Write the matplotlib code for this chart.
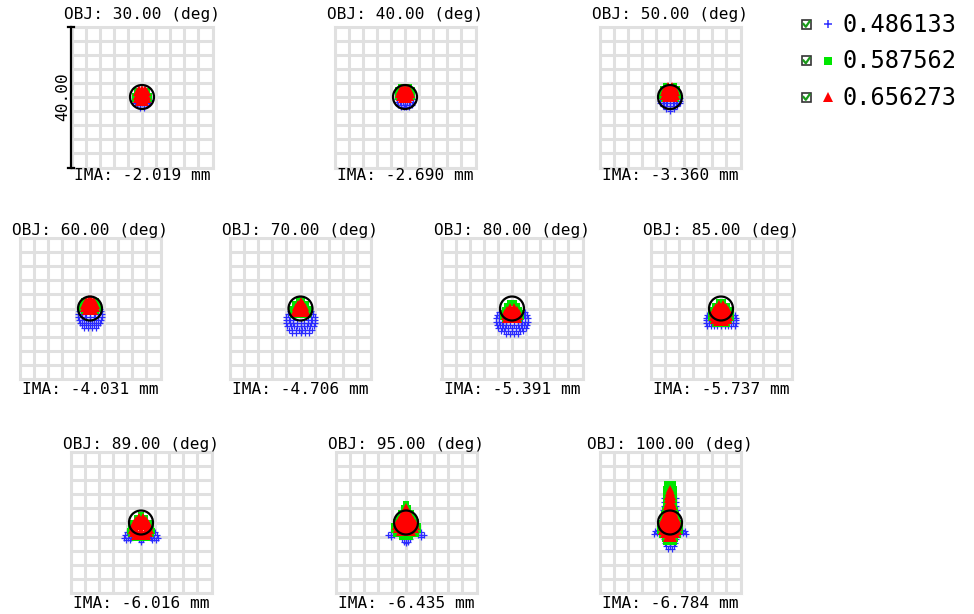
import matplotlib
matplotlib.use("Agg")
import matplotlib.pyplot as plt
from matplotlib.patches import Circle, Rectangle
import numpy as np

# ---------------- data ----------------
FIELDS = [30.0, 40.0, 50.0, 60.0, 70.0, 80.0, 85.0, 89.0, 95.0, 100.0]
IMA = [-2.019, -2.690, -3.360, -4.031, -4.706, -5.391, -5.737, -6.016, -6.435, -6.784]
WAVELENGTHS = ["0.486133", "0.587562", "0.656273"]
SCALE = 40.00          # full grid width (um)
AIRY_RADIUS = 3.4      # um

# spot points, rows of (y, [x ...]) in um
BLUE_SPOTS = [
    [(0.5, [-1.8, 1.8]), (-0.8, [-2.2, -1.2, 1.2, 2.2]), (-1.6, [-2.0, -1.0, 0, 1.0, 2.0]),
     (-2.4, [-1.4, -0.5, 0.5, 1.4]), (-3.0, [-0.6, 0.6])],
    [(-0.6, [-2.3, -1.5, 1.5, 2.3]), (-1.4, [-2.3, -1.4, -0.5, 0.5, 1.4, 2.3]),
     (-2.2, [-2.0, -1.0, 0, 1.0, 2.0]), (-2.9, [-1.2, -0.4, 0.4, 1.2])],
    [(-0.2, [-2.8, 2.8]), (-1.0, [-2.9, -2.0, -1.1, 1.1, 2.0, 2.9]),
     (-1.8, [-2.7, -1.8, -0.9, 0, 0.9, 1.8, 2.7]), (-2.6, [-2.0, -1.0, 0, 1.0, 2.0]),
     (-3.3, [-1.0, 0, 1.0]), (-3.9, [0])],
    [(0.0, [-2.8, 2.8]), (-0.8, [-3.2, -2.2, 2.2, 3.2]), (-1.6, [-3.4, -2.4, -1.4, 1.4, 2.4, 3.4]),
     (-2.4, [-3.4, -2.4, -1.2, 0, 1.2, 2.4, 3.4]), (-3.2, [-3.2, -2.2, -1.1, 0, 1.1, 2.2, 3.2]),
     (-4.0, [-2.8, -1.8, -0.6, 0.6, 1.8, 2.8]), (-4.8, [-2.2, -1.2, 0, 1.2, 2.2]),
     (-5.6, [-1.6, -0.5, 0.5, 1.6])],
    [(-0.6, [-3.0, 3.0]), (-1.5, [-3.6, -2.6, 2.6, 3.6]), (-2.4, [-4.0, -3.0, 3.0, 4.0]),
     (-3.3, [-4.1, -3.2, -2.0, 2.0, 3.2, 4.1]),
     (-4.2, [-4.0, -3.0, -2.0, -1.0, 0, 1.0, 2.0, 3.0, 4.0]),
     (-5.1, [-3.8, -2.8, -1.8, -0.9, 0, 0.9, 1.8, 2.8, 3.8]),
     (-6.0, [-3.3, -2.3, -1.3, -0.4, 0.4, 1.3, 2.3, 3.3]), (-6.9, [-2.4, -1.2, 0, 1.2, 2.4])],
    [(-1.0, [-3.8, 3.8]), (-1.9, [-4.3, -3.4, 3.4, 4.3]), (-2.8, [-4.5, -3.6, -2.7, 2.7, 3.6, 4.5]),
     (-3.7, [-4.5, -3.6, -2.7, -1.8, 1.8, 2.7, 3.6, 4.5]),
     (-4.6, [-4.3, -3.4, -2.5, -1.6, -0.6, 0.6, 1.6, 2.5, 3.4, 4.3]),
     (-5.5, [-3.9, -2.9, -2.0, -1.0, 0, 1.0, 2.0, 2.9, 3.9]),
     (-6.4, [-3.2, -2.2, -1.1, 0, 1.1, 2.2, 3.2]), (-7.1, [-1.8, -0.6, 0.6, 1.8])],
    [(-1.8, [-4.0, -3.2, 3.2, 4.0]), (-2.6, [-4.3, -3.4, -2.6, 2.6, 3.4, 4.3]),
     (-3.4, [-4.3, -3.4, -2.6, -1.7, 1.7, 2.6, 3.4, 4.3]),
     (-4.2, [-4.2, -3.3, -2.4, -1.5, -0.5, 0.5, 1.5, 2.4, 3.3, 4.2]),
     (-5.0, [-3.9, -2.9, -2.0, -1.0, 0, 1.0, 2.0, 2.9, 3.9])],
    [(-2.8, [-4.0, 4.0]), (-3.5, [-4.6, -3.3, -2.5, 2.5, 3.3, 4.6]),
     (-4.4, [-4.8, -3.8, -2.8, 2.8, 3.8, 4.8]), (-4.7, [-0.5, 0.5]),
     (-5.1, [-4.2, -3.2, 0, 3.2, 4.2]), (-5.5, [0])],
    [(-2.7, [-4.3, -3.4, 3.4, 4.3]), (-3.5, [-5.0, -4.2, -3.4, 3.4, 4.2, 5.0]),
     (-4.2, [-4.3, 4.3]), (-4.6, [-1.0, 0, 1.0]), (-5.4, [-0.5, 0.5]), (-5.9, [0])],
    [(7.0, [-1.8, 1.8]), (5.8, [-1.6, 1.6]), (4.6, [-1.8, 1.8]), (3.6, [-2.0, 2.0]),
     (-2.0, [-3.5, 3.5]), (-2.4, [-4.3, 4.3]), (-3.0, [-3.6, 3.6]),
     (-3.3, [-4.6, -2.9, 2.9, 4.6]), (-4.8, [-1.8, -0.6, 0.6, 1.8]),
     (-5.8, [-1.4, 0, 1.4]), (-6.8, [-1.0, 0, 1.0]), (-7.6, [-0.5, 0.5])],
]

GREEN_SPOTS = [
    [(1.8, [-1.4, 1.4]), (0.4, [-2.0, 2.0]), (-0.5, [-1.9, 1.9])],
    [(2.9, [-1.2, 1.2]), (2.0, [-1.9, 1.9]), (1.0, [-2.1, 2.1]), (0.0, [-2.0, 2.0])],
    [(3.2, [-1.0, 1.0]), (2.2, [-2.0, 2.0]), (1.2, [-2.4, 2.4]), (0.2, [-2.3, 2.3]),
     (-0.6, [-1.8, 1.8])],
    [(2.0, [-1.7, 1.7]), (1.0, [-2.2, 2.2]), (0.0, [-2.3, 2.3]), (-0.8, [-1.8, 1.8])],
    [(2.3, [-0.5, 0.5]), (1.2, [-1.6, 1.6]), (0.0, [-2.3, 2.3]), (-1.2, [-2.5, 2.5]),
     (-1.9, [-2.0, -1.0, 0, 1.0, 2.0])],
    [(1.5, [-0.5, 0.5]), (0.7, [-1.3, 1.3]), (-0.3, [-2.1, 2.1]), (-1.3, [-2.5, 2.5]),
     (-2.3, [-2.5, 2.5]), (-3.3, [-1.9, 1.9])],
    [(1.8, [-0.7, 0.7]), (0.8, [-1.7, 1.7]), (-0.3, [-2.5, 2.5]), (-1.4, [-2.8, 2.8]),
     (-2.6, [-2.8, 2.8]), (-3.6, [-2.4, 2.4]), (-4.3, [-1.6, -0.5, 0.5, 1.6])],
    [(2.2, [0]), (1.2, [-1.2, 1.2]), (0.0, [-2.4, 2.4]), (-1.2, [-2.9, 2.9]),
     (-2.4, [-3.0, 3.0]), (-3.4, [-2.7, 2.7]), (-4.3, [-1.8, -0.6, 0.6, 1.8])],
    [(5.2, [0]), (4.0, [-0.7, 0.7]), (2.8, [-1.3, 1.3]), (1.5, [-2.0, 2.0]),
     (0.2, [-2.8, 2.8]), (-1.0, [-3.3, 3.3]), (-2.2, [-3.5, 3.5]),
     (-3.2, [-2.8, -1.5, 1.5, 2.8]), (-4.0, [-1.2, 0, 1.2])],
    [(10.8, [-0.8, 0.8]), (9.6, [-1.0, 0, 1.0]), (8.4, [-1.1, 1.1]), (7.2, [-1.1, 1.1]),
     (6.0, [-1.1, 1.1]), (4.8, [-1.2, 1.2]), (3.6, [-1.3, 1.3]), (2.4, [-1.6, 1.6]),
     (1.2, [-2.0, 2.0]), (0.0, [-2.5, 2.5]), (-1.2, [-2.8, 2.8]), (-2.4, [-2.8, 2.8]),
     (-3.6, [-2.3, 2.3]), (-4.6, [-1.5, -0.5, 0.5, 1.5]), (-5.5, [-1.0, 0, 1.0])],
]

RED_SPOTS = [
    [(2.2, [-0.8, 0, 0.8]), (1.3, [-1.4, -0.5, 0.5, 1.4]), (0.4, [-1.5, -0.5, 0.5, 1.5]),
     (-0.5, [-1.4, -0.5, 0.5, 1.4]), (-1.3, [-0.9, 0, 0.9])],
    [(2.6, [-0.8, 0, 0.8]), (1.8, [-1.5, -0.5, 0.5, 1.5]), (0.9, [-1.6, -0.5, 0.5, 1.6]),
     (0.0, [-1.5, -0.5, 0.5, 1.5]), (-0.6, [-0.9, 0, 0.9])],
    [(3.0, [-0.6, 0.6]), (2.2, [-1.3, -0.4, 0.4, 1.3]), (1.3, [-1.7, -0.6, 0.6, 1.7]),
     (0.4, [-1.6, -0.5, 0.5, 1.6]), (-0.3, [-1.0, 0, 1.0])],
    [(2.8, [-0.4, 0.4]), (2.0, [-1.1, -0.3, 0.3, 1.1]), (1.1, [-1.6, -0.5, 0.5, 1.6]),
     (0.2, [-1.6, -0.5, 0.5, 1.6]), (-0.6, [-1.0, 0, 1.0])],
    [(2.0, [0]), (1.2, [-0.6, 0.6]), (0.3, [-1.2, -0.3, 0.4, 1.2]),
     (-0.6, [-1.6, -0.6, 0.5, 1.6]), (-1.3, [-1.7, -0.6, 0.6, 1.7])],
    [(0.4, [-0.6, 0.6]), (-0.4, [-1.4, -0.5, 0.5, 1.4]), (-1.3, [-1.9, -0.9, 0, 0.9, 1.9]),
     (-2.2, [-2.0, -1.0, 0, 1.0, 2.0]), (-3.0, [-1.6, -0.5, 0.5, 1.6])],
    [(1.2, [-0.5, 0.5]), (0.4, [-1.3, -0.4, 0.4, 1.3]), (-0.5, [-1.9, -0.9, 0, 0.9, 1.9]),
     (-1.4, [-2.2, -1.1, 0, 1.1, 2.2]), (-2.3, [-2.3, -1.2, 0, 1.2, 2.3]),
     (-3.2, [-2.0, -1.0, 0, 1.0, 2.0]), (-3.9, [-1.2, 0, 1.2])],
    [(1.5, [-0.5, 0.5]), (0.7, [-1.4, -0.5, 0.5, 1.4]), (-0.2, [-2.0, -1.0, 0, 1.0, 2.0]),
     (-1.1, [-2.4, -1.2, 0, 1.2, 2.4]), (-2.0, [-2.5, -1.3, 0, 1.3, 2.5]),
     (-2.9, [-2.3, -1.2, 0, 1.2, 2.3]), (-3.8, [-1.6, -0.5, 0.5, 1.6])],
    [(4.4, [0]), (3.5, [-0.4, 0.4]), (2.6, [-0.9, 0, 0.9]), (1.7, [-1.4, -0.5, 0.5, 1.4]),
     (0.8, [-2.0, -1.0, 0, 1.0, 2.0]), (-0.1, [-2.5, -1.5, -0.5, 0.5, 1.5, 2.5]),
     (-1.0, [-2.7, -1.6, -0.5, 0.5, 1.6, 2.7]), (-1.9, [-2.6, -1.5, -0.5, 0.5, 1.5, 2.6]),
     (-2.8, [-1.8, -0.6, 0.6, 1.8])],
    [(9.6, [0]), (8.6, [-0.3, 0.3]), (7.6, [-0.5, 0.5]), (6.6, [-0.6, 0.6]),
     (5.6, [-0.7, 0.7]), (4.6, [-0.8, 0, 0.8]), (3.6, [-0.9, 0, 0.9]), (2.6, [-1.1, 0, 1.1]),
     (1.6, [-1.5, -0.5, 0.5, 1.5]), (0.6, [-1.9, -0.9, 0, 0.9, 1.9]),
     (-0.4, [-2.2, -1.1, 0, 1.1, 2.2]), (-1.4, [-2.4, -1.2, 0, 1.2, 2.4]),
     (-2.4, [-2.3, -1.2, 0, 1.2, 2.3]), (-3.4, [-1.8, -0.6, 0.6, 1.8]), (-4.4, [-0.8, 0, 0.8])],
]

# ---------------- layout ----------------
W, H = 974, 614
PANEL_CENTERS = [(142, 97), (405, 97), (670, 97),
                 (90, 308.5), (300.5, 308.5), (512, 308.5), (721, 308.5),
                 (141, 522.5), (406, 522.5), (670, 522.5)]
PANEL_SIZE = 141
TITLE_Y = [15, 15, 15, 231, 231, 231, 231, 444, 444, 444]
IMA_Y = [176, 176, 176, 389, 389, 389, 389, 603, 603, 603]

GRID_C = "#e0e0e0"
MONO = ["DejaVu Sans Mono"]
STYLES = [
    dict(marker="+", color="#2a2aff", ms=4.6, mew=0.9),
    dict(marker="s", color="#00e600", ms=4.4, mew=0),
    dict(marker="^", color="#ff0000", ms=5.6, mew=0),
]


def expand(rows):
    xs, ys = [], []
    for y, xlist in rows:
        for x in xlist:
            xs.append(x)
            ys.append(y)
    return xs, ys


fig = plt.figure(figsize=(W / 100, H / 100), dpi=100)
fig.patch.set_facecolor("white")

half = SCALE / 2
ticks = np.linspace(-half, half, 11)
for i in range(len(FIELDS)):
    cx, cy = PANEL_CENTERS[i]
    s = PANEL_SIZE
    ax = fig.add_axes([(cx - s / 2) / W, 1 - (cy + s / 2) / H, s / W, s / H])
    ax.set_xlim(-half, half)
    ax.set_ylim(-half, half)
    ax.set_xticks(ticks)
    ax.set_yticks(ticks)
    ax.tick_params(length=0, labelbottom=False, labelleft=False)
    ax.grid(True, color=GRID_C, lw=2.2)
    ax.set_axisbelow(True)
    for sp in ax.spines.values():
        sp.set_color(GRID_C)
        sp.set_linewidth(2.2)
    for spots, st in zip([BLUE_SPOTS, GREEN_SPOTS, RED_SPOTS], STYLES):
        xs, ys = expand(spots[i])
        ax.plot(xs, ys, ls="none", **st)
    ax.add_patch(Circle((0, 0), AIRY_RADIUS, fill=False, ec="black", lw=1.6, zorder=5))

# overlay for texts and legend
ov = fig.add_axes([0, 0, 1, 1], zorder=10)
ov.set_xlim(0, W)
ov.set_ylim(H, 0)
ov.axis("off")

for i in range(len(FIELDS)):
    cx, _ = PANEL_CENTERS[i]
    ov.text(cx, TITLE_Y[i], f"OBJ: {FIELDS[i]:.2f} (deg)", ha="center", va="center",
            fontsize=11.6, family=MONO)
    ov.text(cx, IMA_Y[i], f"IMA: {IMA[i]:.3f} mm", ha="center", va="center",
            fontsize=11.6, family=MONO)

# scale bar on first panel
cx, cy = PANEL_CENTERS[0]
top, bot = cy - PANEL_SIZE / 2, cy + PANEL_SIZE / 2
bx = cx - PANEL_SIZE / 2 - 1
ov.plot([bx, bx], [top, bot], color="black", lw=1.6)
ov.plot([bx - 3, bx + 3], [top, top], color="black", lw=1.6)
ov.plot([bx - 3, bx + 3], [bot, bot], color="black", lw=1.6)
ov.text(bx - 8, cy, f"{SCALE:.2f}", rotation=90, ha="center", va="center",
        fontsize=11.6, family=MONO)

# legend
LEG_Y = [24, 60.5, 97]
for j, wl in enumerate(WAVELENGTHS):
    y = LEG_Y[j]
    ov.add_patch(Rectangle((801.5, y - 4.5), 9, 9, fill=False, ec="#333333", lw=1.2))
    ov.plot([803.5, 805.8, 809.5], [y, y + 2.8, y - 2.5], color="#1a9a1a", lw=1.6)
    st = STYLES[j]
    ov.plot([828], [y], ls="none", marker=st["marker"], color=st["color"],
            ms=st["ms"] * 1.2, mew=st["mew"] * 1.2)
    ov.text(843, y + 1, wl, ha="left", va="center", fontsize=17, family=MONO)

fig.savefig("out.png", dpi=100, facecolor="white")
